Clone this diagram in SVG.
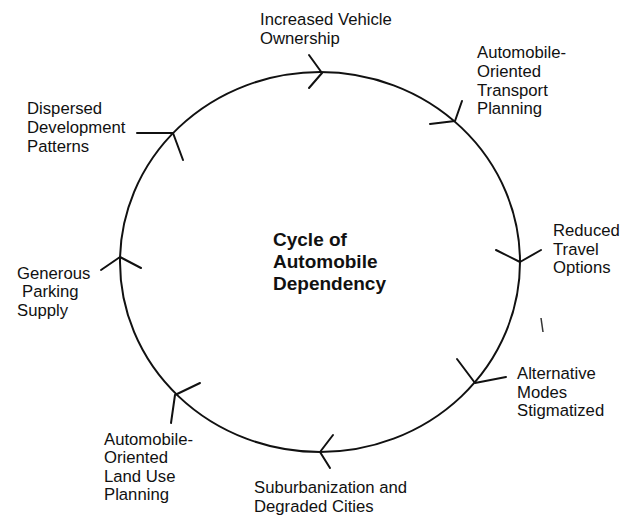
<svg xmlns="http://www.w3.org/2000/svg" width="631" height="515" viewBox="0 0 631 515">
<style>
.t{font-family:"Liberation Sans",Arial,sans-serif;font-size:16.7px;fill:#111}
.c{font-family:"Liberation Sans",Arial,sans-serif;font-size:19px;font-weight:bold;fill:#111}
.ln{fill:none;stroke:#111;stroke-width:2;stroke-linecap:round;stroke-linejoin:round}
</style>
<rect width="631" height="515" fill="#fff"/>
<g id="connectors">
<ellipse class="ln" cx="320" cy="262" rx="200" ry="190"/>
<polyline class="ln" points="309,55 322,73 309,88"/>
<polyline class="ln" points="430,124 455,121 462,101"/>
<polyline class="ln" points="496,250 520,262 541,250"/>
<polyline class="ln" points="457,359 475,383 506,377"/>
<polyline class="ln" points="333,435 320,452 330,468"/>
<polyline class="ln" points="200,383 175,395 171,423"/>
<polyline class="ln" points="101,270 120,257 141,268"/>
<polyline class="ln" points="137,133 173,133 183,160"/>
<line x1="541" y1="318" x2="543" y2="332" stroke="#333" stroke-width="1.5"/>
</g>
<g id="center"><text class="c" x="273" y="246">Cycle of</text><text class="c" x="273" y="268">Automobile</text><text class="c" x="273" y="290">Dependency</text></g>
<g id="n1"><text class="t" x="260" y="25">Increased Vehicle</text><text class="t" x="260" y="43.5">Ownership</text></g>
<g id="n2"><text class="t" x="477" y="58">Automobile-</text><text class="t" x="477" y="77">Oriented</text><text class="t" x="477" y="95.5">Transport</text><text class="t" x="477" y="114">Planning</text></g>
<g id="n3"><text class="t" x="553" y="236">Reduced</text><text class="t" x="553" y="254.5">Travel</text><text class="t" x="553" y="273">Options</text></g>
<g id="n4"><text class="t" x="517" y="379">Alternative</text><text class="t" x="517" y="397.5">Modes</text><text class="t" x="517" y="416">Stigmatized</text></g>
<g id="n5"><text class="t" x="254" y="493">Suburbanization and</text><text class="t" x="254" y="511.5">Degraded Cities</text></g>
<g id="n6"><text class="t" x="104" y="444.5">Automobile-</text><text class="t" x="104" y="463">Oriented</text><text class="t" x="104" y="481.5">Land Use</text><text class="t" x="104" y="500">Planning</text></g>
<g id="n7"><text class="t" x="17" y="278.5">Generous</text><text class="t" x="22" y="297">Parking</text><text class="t" x="17" y="315.5">Supply</text></g>
<g id="n8"><text class="t" x="27" y="114">Dispersed</text><text class="t" x="27" y="133">Development</text><text class="t" x="27" y="152">Patterns</text></g>
</svg>
